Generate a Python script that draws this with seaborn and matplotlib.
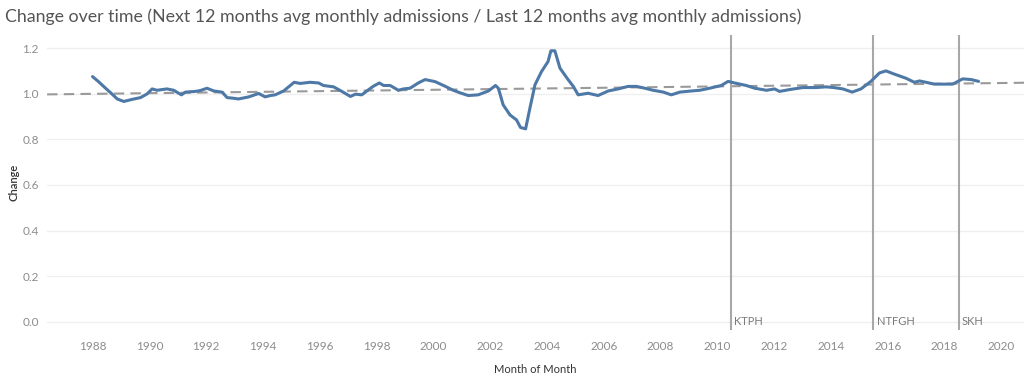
import numpy as np
import pandas as pd
import matplotlib
matplotlib.use("Agg")
import matplotlib.pyplot as plt
import seaborn as sns

# decimal year / change ratio
years = [
    1988.00, 1988.20, 1988.46, 1988.63, 1988.87, 1989.10, 1989.39, 1989.69, 1989.92,
    1990.10, 1990.27, 1990.62, 1990.86, 1991.13, 1991.27, 1991.62, 1991.80, 1992.03,
    1992.27, 1992.56, 1992.74, 1992.97, 1993.14, 1993.50, 1993.85, 1994.08, 1994.26,
    1994.43, 1994.73, 1995.10, 1995.31, 1995.66, 1995.96, 1996.13, 1996.49, 1996.78,
    1997.08, 1997.26, 1997.48, 1997.66, 1997.89, 1998.10, 1998.25, 1998.48, 1998.77,
    1998.95, 1999.18, 1999.47, 1999.71, 2000.06, 2000.41, 2000.70, 2000.94, 2001.23,
    2001.58, 2001.94, 2002.19, 2002.29, 2002.46, 2002.70, 2002.93, 2003.07, 2003.25,
    2003.40, 2003.58, 2003.81, 2004.04, 2004.14, 2004.28, 2004.46, 2004.75, 2004.93,
    2005.10, 2005.45, 2005.80, 2006.16, 2006.51, 2006.86, 2007.15, 2007.45, 2007.74,
    2008.10, 2008.38, 2008.68, 2009.09, 2009.38, 2009.73, 2010.14, 2010.38, 2010.61,
    2011.02, 2011.32, 2011.73, 2012.02, 2012.19, 2012.54, 2013.01, 2013.48, 2013.83,
    2014.10, 2014.42, 2014.75, 2015.06, 2015.41, 2015.71, 2015.94, 2016.23, 2016.64,
    2016.94, 2017.12, 2017.35, 2017.64, 2018.11, 2018.29, 2018.64, 2018.94, 2019.20,
]
change = [
    1.075, 1.054, 1.024, 1.005, 0.977, 0.966, 0.975, 0.983, 0.999,
    1.021, 1.015, 1.021, 1.015, 0.995, 1.007, 1.010, 1.014, 1.024,
    1.012, 1.007, 0.983, 0.980, 0.977, 0.986, 1.001, 0.986, 0.992,
    0.995, 1.012, 1.050, 1.045, 1.050, 1.047, 1.036, 1.030, 1.010,
    0.988, 0.998, 0.995, 1.012, 1.033, 1.047, 1.036, 1.036, 1.015,
    1.021, 1.024, 1.047, 1.062, 1.053, 1.033, 1.015, 1.004, 0.992,
    0.995, 1.012, 1.036, 1.024, 0.951, 0.907, 0.885, 0.852, 0.846,
    0.936, 1.039, 1.097, 1.141, 1.188, 1.188, 1.112, 1.061, 1.032,
    0.995, 1.002, 0.992, 1.012, 1.021, 1.032, 1.032, 1.024, 1.015,
    1.007, 0.995, 1.007, 1.012, 1.015, 1.024, 1.036, 1.054, 1.047,
    1.036, 1.024, 1.015, 1.021, 1.010, 1.018, 1.027, 1.027, 1.030,
    1.027, 1.021, 1.007, 1.021, 1.054, 1.091, 1.100, 1.086, 1.068,
    1.050, 1.056, 1.050, 1.042, 1.042, 1.042, 1.065, 1.062, 1.054,
]

trend_years = [1986.4, 2020.8]
trend_values = [0.997, 1.048]

hospitals = ["KTPH", "NTFGH", "SKH"]
opened = [2010.47, 2015.5, 2018.5]

xticks = list(range(1988, 2021, 2))
yticks = [0.0, 0.2, 0.4, 0.6, 0.8, 1.0, 1.2]

df = pd.DataFrame({"year": years, "change": change})

sns.set_style("white")
plt.rcParams["font.family"] = ["Lato", "DejaVu Sans"]

fig = plt.figure(figsize=(10.24, 3.77), dpi=100)
ax = fig.add_axes([0.046, 0.125, 0.954, 0.782])

for y in yticks:
    ax.axhline(y, color="#efefef", lw=0.9, zorder=0)

ax.plot(trend_years, trend_values, color="#9a9a9a", lw=1.5, ls=(0, (5, 3)), zorder=1)

for name, x in zip(hospitals, opened):
    ax.axvline(x, color="#a8a8a8", lw=1.5, zorder=1)
    ax.text(x + 0.12, -0.0, name, color="#7a7a7a", fontsize=8, va="center", ha="left")

sns.lineplot(data=df, x="year", y="change", ax=ax, color="#4e79a7", lw=2.2, zorder=3)

ax.set_xlim(1986.4, 2020.8)
ax.set_ylim(-0.035, 1.257)
ax.set_xticks(xticks)
ax.set_xticklabels([str(t) for t in xticks])
ax.set_yticks(yticks)
ax.set_yticklabels([f"{t:.1f}" for t in yticks])
ax.tick_params(axis="both", length=0, labelsize=8.5, labelcolor="#8c8c8c")
ax.tick_params(axis="x", pad=8)
ax.tick_params(axis="y", pad=6)
for s in ax.spines.values():
    s.set_visible(False)

ax.set_xlabel("Month of Month", fontsize=8, color="#333333", labelpad=9)
ax.set_ylabel("Change", fontsize=8, color="#333333", labelpad=2, fontweight="semibold")

fig.text(0.005, 0.955, "Change over time (Next 12 months avg monthly admissions / Last 12 months avg monthly admissions)",
         fontsize=12.8, color="#555555", va="center", ha="left")

fig.savefig("out.png", dpi=100, facecolor="white")
